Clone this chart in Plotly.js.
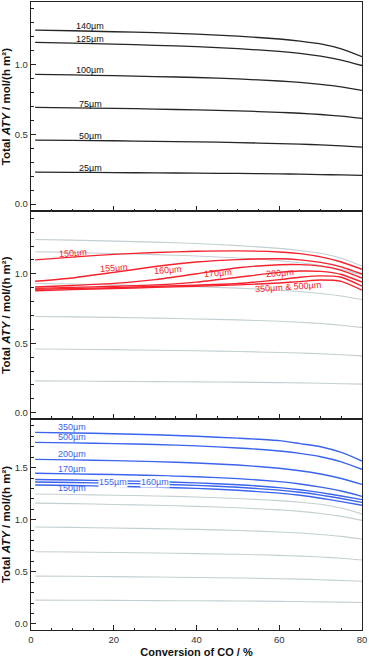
<!DOCTYPE html>
<html>
<head>
<meta charset="utf-8">
<script src="https://cdn.plot.ly/plotly-3.0.1.min.js"></script>
<style>
html, body { margin: 0; padding: 0; background: #fff; }
#c1 { width: 369px; height: 658px; }
</style>
</head>
<body>
<div id="c1"></div>
<script>
// conversion of CO (%)
var conv = [1, 10, 20, 30, 40, 50, 60, 65, 70, 75, 80];

// top panel, black curves (also grey background in the other panels)
var thick = ['140µm', '125µm', '100µm', '75µm', '50µm', '25µm'];
var aty140 = [1.247, 1.242, 1.235, 1.228, 1.218, 1.203, 1.183, 1.168, 1.148, 1.112, 1.056];
var aty125 = [1.159, 1.154, 1.146, 1.138, 1.128, 1.114, 1.094, 1.080, 1.060, 1.032, 0.993];
var aty100 = [0.930, 0.926, 0.920, 0.914, 0.907, 0.897, 0.882, 0.872, 0.858, 0.840, 0.815];
var aty75 = [0.693, 0.690, 0.686, 0.681, 0.675, 0.668, 0.658, 0.651, 0.642, 0.630, 0.614];
var aty50 = [0.459, 0.457, 0.454, 0.450, 0.446, 0.441, 0.434, 0.430, 0.424, 0.417, 0.409];
var aty25 = [0.229, 0.228, 0.226, 0.224, 0.222, 0.220, 0.217, 0.215, 0.212, 0.209, 0.206];

// middle panel, red curves
var redNames = ['150µm', '155µm', '160µm', '170µm', '200µm', '350µm & 500µm'];
var red150 = [1.100, 1.120, 1.140, 1.153, 1.162, 1.165, 1.157, 1.145, 1.122, 1.085, 1.032];
var red155 = [0.946, 0.970, 1.010, 1.052, 1.085, 1.102, 1.108, 1.100, 1.082, 1.050, 0.998];
var red160 = [0.905, 0.916, 0.931, 0.958, 1.000, 1.043, 1.065, 1.066, 1.055, 1.025, 0.969];
var red170 = [0.895, 0.902, 0.910, 0.920, 0.940, 0.975, 1.010, 1.020, 1.017, 0.995, 0.940];
var red200 = [0.888, 0.894, 0.900, 0.909, 0.918, 0.930, 0.958, 0.975, 0.985, 0.975, 0.911];
var red350 = [0.878, 0.886, 0.894, 0.902, 0.910, 0.920, 0.934, 0.944, 0.955, 0.945, 0.882];

// bottom panel, blue curves
var blueNames = ['350µm', '500µm', '200µm', '170µm', '160µm', '155µm', '150µm'];
var blue350 = [1.838, 1.832, 1.825, 1.815, 1.800, 1.782, 1.758, 1.730, 1.700, 1.645, 1.563];
var blue500 = [1.742, 1.737, 1.730, 1.721, 1.708, 1.688, 1.659, 1.636, 1.604, 1.555, 1.483];
var blue200 = [1.579, 1.574, 1.567, 1.557, 1.544, 1.524, 1.493, 1.470, 1.438, 1.395, 1.339];
var blue170 = [1.445, 1.440, 1.433, 1.424, 1.412, 1.394, 1.365, 1.343, 1.313, 1.275, 1.224];
var blue160 = [1.386, 1.381, 1.374, 1.365, 1.353, 1.335, 1.308, 1.287, 1.260, 1.227, 1.192];
var blue155 = [1.362, 1.357, 1.350, 1.341, 1.329, 1.311, 1.284, 1.263, 1.236, 1.203, 1.166];
var blue150 = [1.333, 1.328, 1.321, 1.312, 1.300, 1.282, 1.255, 1.234, 1.206, 1.173, 1.138];

var black = [aty140, aty125, aty100, aty75, aty50, aty25];
var reds = [red150, red155, red160, red170, red200, red350];
var blues = [blue350, blue500, blue200, blue170, blue160, blue155, blue150];

var cBlack = '#262626';
var cGrey = '#c3cfd2';
var cRed = '#f5222d';
var cBlue = '#3a63ee';

var data = [];
function line(y, xa, ya, col, w) {
	data.push({x: conv, y: y, xaxis: xa, yaxis: ya, mode: 'lines', type: 'scatter',
		line: {color: col, width: w, shape: 'spline', smoothing: 0.6}, hoverinfo: 'skip'});
}
for (var i = 0; i < black.length; i++) {
	line(black[i], 'x', 'y', cBlack, 1.3);
	line(black[i], 'x2', 'y2', cGrey, 1.1);
	line(black[i], 'x3', 'y3', cGrey, 1.1);
}
for (var i = 0; i < reds.length; i++) line(reds[i], 'x2', 'y2', cRed, 1.4);
for (var i = 0; i < blues.length; i++) line(blues[i], 'x3', 'y3', cBlue, 1.4);

var fnt = 'Liberation Sans, Arial, sans-serif';
var ann = [];
// labels of top panel
var lblY1 = [1.278, 1.183, 0.96, 0.719, 0.487, 0.256];
for (var i = 0; i < thick.length; i++) {
	ann.push({x: 14.3, y: lblY1[i], xref: 'x', yref: 'y', text: thick[i], showarrow: false,
		font: {family: fnt, size: 9, color: '#111'}});
}
var lblX2 = [10.2, 20, 33.2, 45.1, 60.2, 62.2];
var lblY2 = [1.149, 1.039, 1.024, 1.007, 1.007, 0.902];
for (var i = 0; i < redNames.length; i++) {
	ann.push({x: lblX2[i], y: lblY2[i], xref: 'x2', yref: 'y2', text: redNames[i], showarrow: false,
		textangle: -4, font: {family: fnt, size: 9, color: cRed}});
}
var lblX3 = [9.8, 9.8, 9.8, 9.8, 30, 19.9, 9.8];
var lblY3 = [1.89, 1.79, 1.627, 1.486, 1.358, 1.358, 1.30];
for (var i = 0; i < blueNames.length; i++) {
	var a = {x: lblX3[i], y: lblY3[i], xref: 'x3', yref: 'y3', text: blueNames[i], showarrow: false,
		font: {family: fnt, size: 9, color: cBlue}, borderpad: 0};
	if (blueNames[i] == '155µm' || blueNames[i] == '160µm') a.bgcolor = '#fff';
	ann.push(a);
}

function xax(anchor, labels) {
	return {range: [0, 80], dtick: 20, ticks: 'inside', ticklen: 5, tickwidth: 1, tickcolor: '#222',
		minor: {dtick: 5, ticks: 'inside', ticklen: 2.5, tickcolor: '#222'},
		showline: true, linecolor: '#222', linewidth: 1.2, mirror: true, showgrid: false, zeroline: false,
		anchor: anchor, showticklabels: labels,
		tickfont: {family: fnt, size: 9.5, color: '#333'}};
}
function yax(dom, rng, anchor) {
	return {domain: dom, range: rng, dtick: 0.5, tickformat: '.1f', ticks: 'inside', ticklen: 5,
		tickcolor: '#222', minor: {dtick: 0.1, ticks: 'inside', ticklen: 2.5, tickcolor: '#222'},
		showline: true, linecolor: '#222', linewidth: 1.2, mirror: true, showgrid: false, zeroline: false,
		anchor: anchor, tickfont: {family: fnt, size: 9.5, color: '#333'},
		title: {text: '<b>Total <i>ATY</i> / mol/(h m²)</b>', font: {family: fnt, size: 11.5, color: '#111'}, standoff: 2}};
}

var layout = {
	width: 369, height: 658,
	margin: {l: 31, r: 7, t: 2, b: 28},
	showlegend: false,
	paper_bgcolor: '#fff', plot_bgcolor: '#fff',
	xaxis: xax('y', false),
	xaxis2: xax('y2', false),
	xaxis3: xax('y3', true),
	yaxis: yax([0.667, 1], [-0.05, 1.448], 'x'),
	yaxis2: yax([0.336, 0.667], [-0.045, 1.451], 'x2'),
	yaxis3: yax([0, 0.336], [-0.058, 1.966], 'x3'),
	annotations: ann
};
layout.xaxis3.title = {text: '<b>Conversion of CO / %</b>', font: {family: fnt, size: 11, color: '#111'}, standoff: 4};

Plotly.newPlot('c1', data, layout, {staticPlot: true});
</script>
</body>
</html>
